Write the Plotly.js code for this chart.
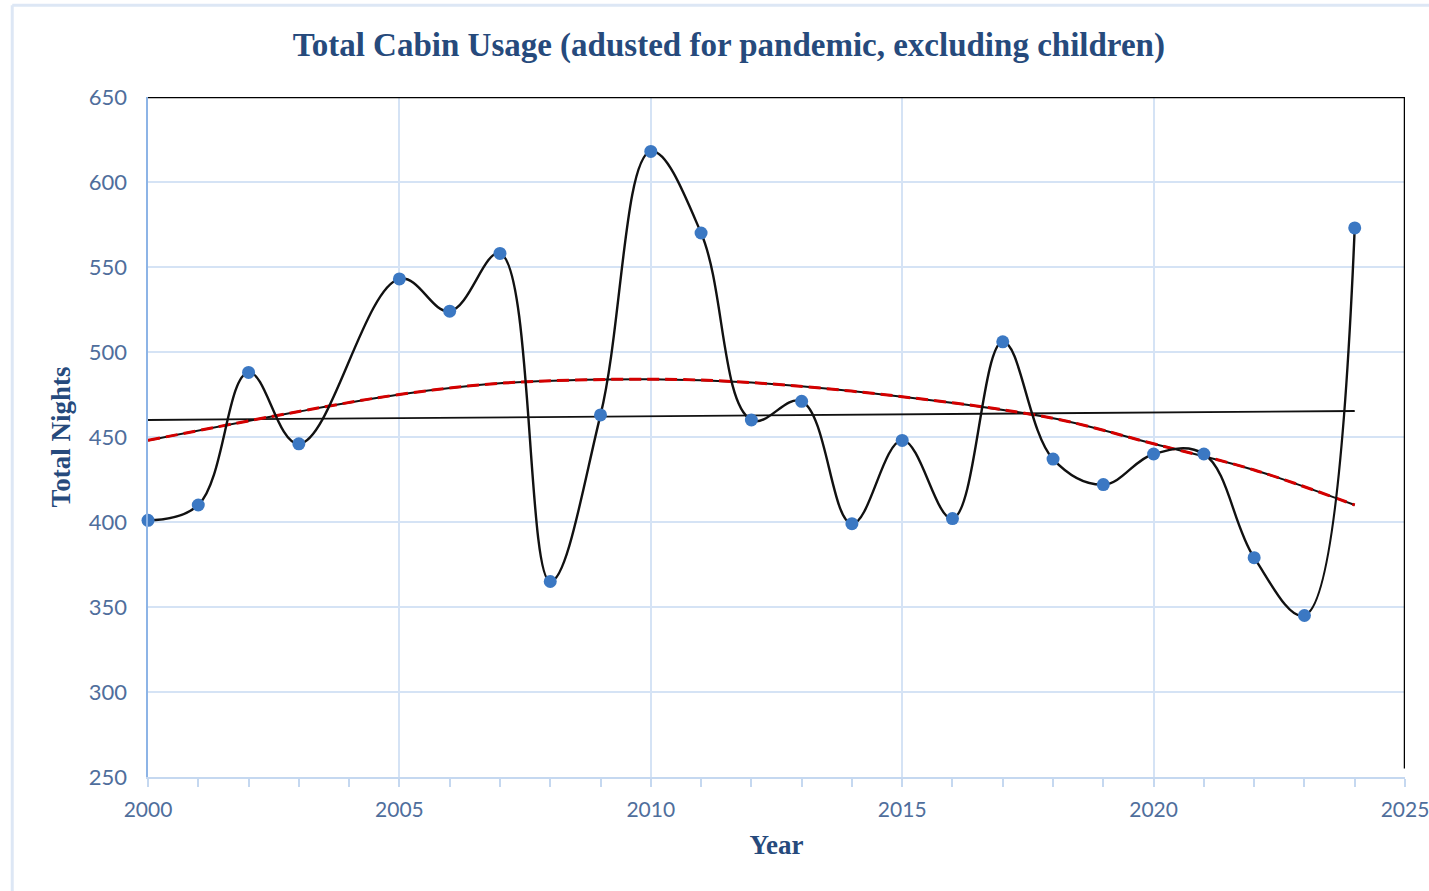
<!DOCTYPE html>
<html>
<head>
<meta charset="utf-8">
<script src="https://cdn.plot.ly/plotly-3.0.1.min.js"></script>
<style>html,body{margin:0;padding:0;background:#fff;}#chart{width:1429px;height:891px;}</style>
</head>
<body>
<div id="chart"></div>
<script>
// Observed data (2004 has no point in the reference)
const years = [2000, 2001, 2002, 2003, 2005, 2006, 2007, 2008, 2009, 2010, 2011, 2012, 2013, 2014, 2015, 2016, 2017, 2018, 2019, 2020, 2021, 2022, 2023, 2024];
const nights = [401, 410, 488, 446, 543, 524, 558, 365, 463, 618, 570, 460, 471, 399, 448, 402, 506, 437, 422, 440, 440, 379, 345, 573];

// Linear trendline
const linYears = [2000, 2024];
const linValues = [460, 465.3];

// Polynomial trendline
const polyYears = [2000, 2003, 2005, 2007, 2010, 2012, 2015, 2018, 2020, 2022, 2024];
const polyValues = [448, 465, 475, 481.6, 484, 482, 473.7, 461, 446, 430.6, 410];

const xTicks = [2000, 2005, 2010, 2015, 2020, 2025];
const yTicks = [250, 300, 350, 400, 450, 500, 550, 600, 650];

const labelColor = '#4f6e9c';
const titleColor = '#264a7c';
const gridColor = '#d5e3f5';

const traces = [
  {x: linYears, y: linValues, mode: 'lines', line: {color: '#111', width: 1.8}, hoverinfo: 'skip'},
  {x: polyYears, y: polyValues, mode: 'lines', line: {color: '#111', width: 2, shape: 'spline'}, hoverinfo: 'skip'},
  {x: polyYears, y: polyValues, mode: 'lines', line: {color: '#d40000', width: 3, dash: '12px,6px', shape: 'spline'}, hoverinfo: 'skip'},
  {x: years, y: nights, mode: 'lines', line: {color: '#111', width: 2.4, shape: 'spline', smoothing: 1.1}, hoverinfo: 'skip'},
  {x: years, y: nights, mode: 'markers', marker: {color: '#3b78c3', size: 13}, cliponaxis: false}
];

const layout = {
  width: 1429, height: 891,
  margin: {l: 148, r: 24, t: 97, b: 114},
  paper_bgcolor: '#fff', plot_bgcolor: '#fff',
  showlegend: false,
  title: {text: 'Total Cabin Usage (adusted for pandemic, excluding children)',
          font: {family: 'Liberation Serif, serif', size: 33, color: titleColor, weight: 'bold'},
          x: 0.51, xanchor: 'center', y: 0.95, yanchor: 'middle'},
  xaxis: {
    range: [2000, 2025], tickvals: xTicks, ticktext: xTicks.map(String),
    showgrid: true, gridcolor: gridColor, gridwidth: 2,
    showline: true, linecolor: '#c5d8f0', linewidth: 2,
    ticks: 'outside', ticklen: 8, tickcolor: '#c5d8f0', tickwidth: 2,
    minor: {dtick: 1, ticks: 'outside', ticklen: 8, tickcolor: '#c5d8f0', tickwidth: 2, showgrid: false},
    zeroline: false, ticklabelstandoff: 5, ticklabeloverflow: 'allow',
    tickfont: {family: 'Lato, sans-serif', size: 21, color: labelColor},
    title: {text: 'Year', font: {family: 'Liberation Serif, serif', size: 27, color: titleColor, weight: 'bold'}, standoff: 15}
  },
  yaxis: {
    range: [250, 650], tickvals: yTicks, ticktext: yTicks.map(String),
    showgrid: true, gridcolor: gridColor, gridwidth: 2,
    showline: true, linecolor: '#8db4e6', linewidth: 2.5,
    ticks: '', zeroline: false, ticklabelstandoff: 14,
    tickfont: {family: 'Lato, sans-serif', size: 22, color: labelColor},
    title: {text: 'Total Nights', font: {family: 'Liberation Serif, serif', size: 27, color: titleColor, weight: 'bold'}, standoff: 11}
  },
  shapes: [
    {type: 'line', xref: 'x', yref: 'y', x0: 2000, x1: 2025, y0: 650, y1: 650, line: {color: '#000', width: 2.5}},
    {type: 'line', xref: 'x', yref: 'y', x0: 2025, x1: 2025, y0: 255, y1: 650, line: {color: '#000', width: 2.5}},
    {type: 'line', xref: 'paper', yref: 'paper', x0: -0.108, x1: 1.03, y0: 1.135, y1: 1.135, line: {color: '#dde7f5', width: 3}},
    {type: 'line', xref: 'paper', yref: 'paper', x0: -0.108, x1: -0.108, y0: -0.17, y1: 1.135, line: {color: '#dde7f5', width: 3}}
  ]
};

Plotly.newPlot('chart', traces, layout, {displayModeBar: false, staticPlot: true});
</script>
</body>
</html>
